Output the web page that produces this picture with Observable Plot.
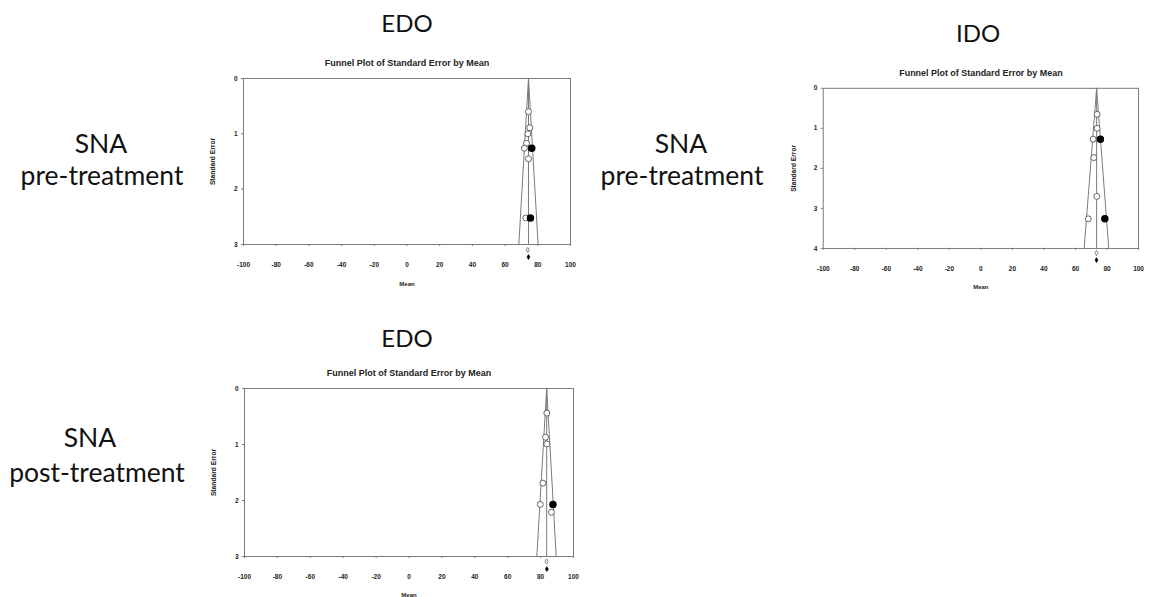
<!DOCTYPE html>
<html>
<head>
<meta charset="utf-8">
<script src="https://cdn.jsdelivr.net/npm/d3@7"></script>
<script src="https://cdn.jsdelivr.net/npm/@observablehq/plot@0.6"></script>
<style>
  html, body { margin: 0; padding: 0; background: #fff; }
  #root { position: relative; width: 1150px; height: 597px; overflow: hidden; background: #fff; }
  #root > svg, #root > .panel { position: absolute; }
</style>
</head>
<body>
<div id="root"></div>
<script>
// ---------- data ----------
const xTicks = [-100, -80, -60, -40, -20, 0, 20, 40, 60, 80, 100];
const chartTitle = "Funnel Plot of Standard Error by Mean";
const xLabel = "Mean";
const yLabel = "Standard Error";

// Panel A: EDO, SNA pre-treatment
const edoPreObsMean = [74.3, 75.1, 73.9, 73.1, 71.8, 74.3, 72.7];
const edoPreObsSE   = [0.60, 0.89, 1.00, 1.17, 1.26, 1.45, 2.52];
const edoPreImpMean = [76.3, 75.5];
const edoPreImpSE   = [1.26, 2.52];
const edoPreSummary = {observed: 73.9, adjusted: 74.3};
const edoPreFunnel  = {mean: 74.3, lo: 68.4, hi: 80.2, seMax: 3};
const edoPreYTicks  = [0, 1, 2, 3];

// Panel B: IDO, SNA pre-treatment
const idoPreObsMean = [73.7, 73.7, 71.2, 71.6, 73.5, 68.1];
const idoPreObsSE   = [0.65, 1.00, 1.27, 1.73, 2.70, 3.26];
const idoPreImpMean = [75.8, 78.6];
const idoPreImpSE   = [1.27, 3.26];
const idoPreSummary = {observed: 73.3, adjusted: 73.3};
const idoPreFunnel  = {mean: 73.4, lo: 65.5, hi: 81.1, seMax: 4};
const idoPreYTicks  = [0, 1, 2, 3, 4];

// Panel C: EDO, SNA post-treatment
const edoPostObsMean = [83.8, 83.0, 83.8, 81.4, 79.8, 86.6];
const edoPostObsSE   = [0.44, 0.87, 0.99, 1.69, 2.07, 2.21];
const edoPostImpMean = [87.5];
const edoPostImpSE   = [2.07];
const edoPostSummary = {observed: 83.6, adjusted: 83.8};
const edoPostFunnel  = {mean: 83.7, lo: 77.7, hi: 89.5, seMax: 3};
const edoPostYTicks  = [0, 1, 2, 3];

// Big labels
const columnLabels = ["EDO", "IDO", "EDO"];
const rowLabelsA = ["SNA", "pre-treatment"];
const rowLabelsB = ["SNA", "pre-treatment"];
const rowLabelsC = ["SNA", "post-treatment"];

// ---------- layout ----------
const root = document.getElementById("root");
const M = {top: 34, left: 48, right: 12, bottom: 52};
const lineColor = "#7a7a7a";

function panel(cfg) {
  const obs = cfg.obsMean.map((m, i) => ({mean: m, se: cfg.obsSE[i]}));
  const imp = cfg.impMean.map((m, i) => ({mean: m, se: cfg.impSE[i]}));
  const f = cfg.funnel;
  const leftEdge  = [{mean: f.mean, se: 0}, {mean: f.lo, se: f.seMax}];
  const rightEdge = [{mean: f.mean, se: 0}, {mean: f.hi, se: f.seMax}];
  const chart = Plot.plot({
    width: M.left + cfg.w + M.right,
    height: M.top + cfg.h + M.bottom,
    marginTop: M.top, marginLeft: M.left, marginRight: M.right, marginBottom: M.bottom,
    style: {fontFamily: "Liberation Sans, Arial, sans-serif", fontWeight: "bold", fontSize: "6.5px", color: "#222", background: "transparent", overflow: "visible"},
    x: {domain: [-100, 100]},
    y: {domain: [0, f.seMax], reverse: true},
    marks: [
      Plot.frame({stroke: lineColor, strokeWidth: 1}),
      Plot.axisX({ticks: xTicks, tickSize: 2, tickPadding: 16, tickFormat: d => String(d), label: null, stroke: lineColor, fill: "#222", fontWeight: "bold"}),
      Plot.axisY({ticks: cfg.yTicks, tickSize: 2, tickPadding: 4, tickFormat: d => String(d), label: null, stroke: lineColor, fill: "#222", fontWeight: "bold"}),
      Plot.line(leftEdge, {x: "mean", y: "se", stroke: lineColor, strokeWidth: 1}),
      Plot.line(rightEdge, {x: "mean", y: "se", stroke: lineColor, strokeWidth: 1}),
      Plot.ruleX([f.mean], {y1: 0, y2: f.seMax, stroke: lineColor, strokeWidth: 1}),
      Plot.dot(obs, {x: "mean", y: "se", r: 3, stroke: "#555", strokeWidth: 0.9, fill: "white"}),
      Plot.dot(imp, {x: "mean", y: "se", r: 3, stroke: "#000", fill: "#000"}),
      Plot.dot([cfg.summary.observed], {x: d => d, y: () => f.seMax, dy: cfg.dDy[0], symbol: "diamond", r: 1.6, stroke: "#555", strokeWidth: 0.7, fill: "white"}),
      Plot.dot([cfg.summary.adjusted], {x: d => d, y: () => f.seMax, dy: cfg.dDy[1], symbol: "diamond", r: 1.5, stroke: "#000", strokeWidth: 0.7, fill: "#000"}),
      Plot.text([chartTitle], {frameAnchor: "top", lineAnchor: "middle", dy: cfg.titleDy, fontSize: 9, fontWeight: "bold", fill: "#222"}),
      Plot.text([xLabel], {frameAnchor: "bottom", lineAnchor: "middle", dy: cfg.meanDy, fontSize: 6, fontWeight: "bold", fill: "#222"}),
      Plot.text([yLabel], {frameAnchor: "left", textAnchor: "middle", lineAnchor: "middle", dx: cfg.seDx, rotate: -90, fontSize: 6.7, fontWeight: "bold", fill: "#222"})
    ]
  });
  const wrap = document.createElement("div");
  wrap.className = "panel";
  wrap.style.left = (cfg.left - M.left) + "px";
  wrap.style.top = (cfg.top - M.top) + "px";
  wrap.appendChild(chart);
  root.appendChild(wrap);
}

panel({left: 243, top: 78, w: 327, h: 166, obsMean: edoPreObsMean, obsSE: edoPreObsSE, impMean: edoPreImpMean, impSE: edoPreImpSE,
       summary: edoPreSummary, funnel: edoPreFunnel, yTicks: edoPreYTicks, dDy: [5.5, 12.5], titleDy: -15, meanDy: 40, seDx: -31});
panel({left: 823, top: 88, w: 317, h: 161, obsMean: idoPreObsMean, obsSE: idoPreObsSE, impMean: idoPreImpMean, impSE: idoPreImpSE,
       summary: idoPreSummary, funnel: idoPreFunnel, yTicks: idoPreYTicks, dDy: [4.5, 11.7], titleDy: -15, meanDy: 39, seDx: -30});
panel({left: 244, top: 388, w: 329, h: 168, obsMean: edoPostObsMean, obsSE: edoPostObsSE, impMean: edoPostImpMean, impSE: edoPostImpSE,
       summary: edoPostSummary, funnel: edoPostFunnel, yTicks: edoPostYTicks, dDy: [5, 12.6], titleDy: -15.5, meanDy: 39, seDx: -31});

// Big labels overlay
const svg = d3.select(root).insert("svg", ":first-child")
  .attr("width", 1150).attr("height", 597)
  .style("left", "0px").style("top", "0px")
  .style("font-family", "Lato, 'Open Sans', sans-serif")
  .style("fill", "#111");
const bigText = [
  {t: columnLabels[0], x: 407, y: 32, s: 24},
  {t: columnLabels[1], x: 978, y: 42, s: 24},
  {t: columnLabels[2], x: 407, y: 347, s: 24},
  {t: rowLabelsA[0], x: 101, y: 153, s: 26.5},
  {t: rowLabelsA[1], x: 102, y: 185, s: 26.5},
  {t: rowLabelsB[0], x: 681, y: 153, s: 26.5},
  {t: rowLabelsB[1], x: 682, y: 185, s: 26.5},
  {t: rowLabelsC[0], x: 90, y: 447, s: 26.5},
  {t: rowLabelsC[1], x: 97, y: 482, s: 26.5}
];
svg.selectAll("text").data(bigText).join("text")
  .attr("x", d => d.x).attr("y", d => d.y)
  .attr("text-anchor", "middle")
  .style("font-size", d => d.s + "px")
  .text(d => d.t);
</script>
</body>
</html>
